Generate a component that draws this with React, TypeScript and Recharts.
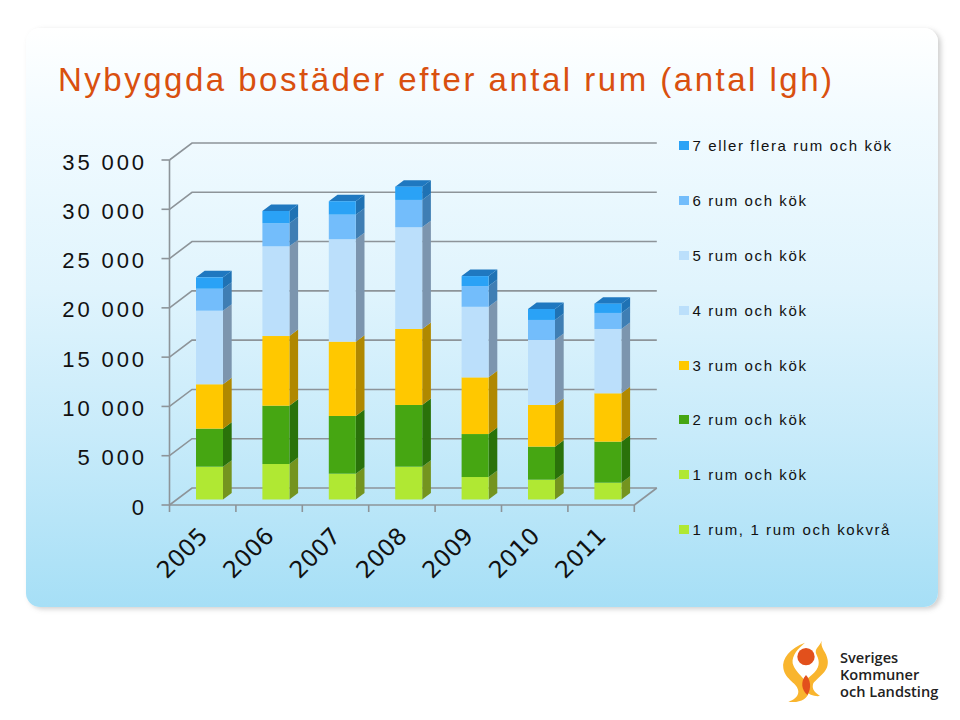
import React from "react";
import { BarChart, Bar, XAxis, YAxis, CartesianGrid, Legend } from "recharts";

const years = ["2005", "2006", "2007", "2008", "2009", "2010", "2011"];
const yTicks = [0, 5000, 10000, 15000, 20000, 25000, 30000, 35000];

const kokvra = [0, 0, 0, 0, 0, 0, 0];
const rum1 = [3330, 3600, 2620, 3330, 2280, 2010, 1705];
const rum2 = [3855, 5915, 5855, 6260, 4360, 3350, 4160];
const rum3 = [4505, 7070, 7540, 7710, 5750, 4230, 4910];
const rum4 = [7465, 9100, 10390, 10320, 7160, 6595, 6525];
const rum5 = [0, 0, 0, 0, 0, 0, 0];
const rum6 = [2230, 2335, 2495, 2770, 2100, 2030, 1625];
const rum7 = [1155, 1250, 1360, 1350, 1015, 1115, 945];

const seriesList = [
  { key: "a", name: "1 rum, 1 rum och kokvrå", values: kokvra, fill: "#b0e833", side: "#74941f", top: "#8fb828" },
  { key: "b", name: "1 rum och kök", values: rum1, fill: "#b0e833", side: "#74941f", top: "#8fb828" },
  { key: "c", name: "2 rum och kök", values: rum2, fill: "#46a612", side: "#2a720a", top: "#357f0d" },
  { key: "d", name: "3 rum och kök", values: rum3, fill: "#ffc800", side: "#b08800", top: "#c89c00" },
  { key: "e", name: "4 rum och kök", values: rum4, fill: "#bbdffb", side: "#7c95ae", top: "#90adc8" },
  { key: "f", name: "5 rum och kök", values: rum5, fill: "#bbdffb", side: "#7c95ae", top: "#90adc8" },
  { key: "g", name: "6 rum och kök", values: rum6, fill: "#73bdfb", side: "#3f7eb4", top: "#4f90c8" },
  { key: "h", name: "7 eller flera rum och kök", values: rum7, fill: "#2aa2f6", side: "#1f72b4", top: "#1f78c0" },
];

const chartData = years.map((year, i) => {
  const row: Record<string, string | number> = { year };
  seriesList.forEach((s) => {
    row[s.key] = s.values[i];
  });
  return row;
});

const DEPTH_X = 8.7;
const DEPTH_Y = 6.5;
const FRONT_DX = -6.5;
const FRONT_DY = 5.5;
const BACK_DX = 16;
const BACK_DY = -11.5;
const AXIS = "#8d9499";
const TXT = "#111";

function Bar3D(props: any, side: string, top: string, isTop: boolean) {
  const { x, y, width, height, fill } = props;
  if (!height || height <= 0) return <g />;
  const r = x + width;
  const b = y + height;
  return (
    <g>
      <polygon
        points={`${r},${y} ${r + DEPTH_X},${y - DEPTH_Y} ${r + DEPTH_X},${b - DEPTH_Y} ${r},${b}`}
        fill={side}
      />
      {isTop && (
        <polygon
          points={`${x},${y} ${r},${y} ${r + DEPTH_X},${y - DEPTH_Y} ${x + DEPTH_X},${y - DEPTH_Y}`}
          fill={top}
        />
      )}
      <rect x={x} y={y} width={width} height={height} fill={fill} />
    </g>
  );
}

function WallLine(props: any) {
  const { x1, x2, y1 } = props;
  return (
    <path
      d={`M${x1 + FRONT_DX},${y1 + FRONT_DY} L${x1 + BACK_DX},${y1 + BACK_DY} L${x2 + BACK_DX},${y1 + BACK_DY}`}
      fill="none"
      stroke={AXIS}
      strokeWidth={1.6}
    />
  );
}

function YTick(props: any) {
  const { x, y, payload } = props;
  const label = String(payload.value).replace(/\B(?=(\d{3})+$)/g, " ");
  return (
    <g>
      <line x1={x + FRONT_DX - 8} x2={x + FRONT_DX} y1={y + FRONT_DY} y2={y + FRONT_DY} stroke={AXIS} strokeWidth={1.6} />
      <text
        x={147}
        y={y + FRONT_DY + 9.5}
        textAnchor="end"
        fontFamily="'Liberation Sans', Arial, sans-serif"
        fontSize={22}
        letterSpacing={2.9}
        fill={TXT}
      >
        {label}
      </text>
    </g>
  );
}

const BAND = 66.4;

function XTick(props: any) {
  const { x, y, payload, index } = props;
  const tx = x - BAND / 2 + FRONT_DX;
  const isLast = index === years.length - 1;
  return (
    <g>
      <line x1={tx} x2={tx} y1={y + FRONT_DY} y2={y + FRONT_DY + 7} stroke={AXIS} strokeWidth={1.6} />
      {isLast && (
        <g>
          <line x1={tx + BAND} x2={tx + BAND} y1={y + FRONT_DY} y2={y + FRONT_DY + 7} stroke={AXIS} strokeWidth={1.6} />
          <line
            x1={tx + BAND}
            y1={y + FRONT_DY}
            x2={tx + BAND + BACK_DX - FRONT_DX}
            y2={y + BACK_DY}
            stroke={AXIS}
            strokeWidth={1.6}
          />
        </g>
      )}
      <text
        transform={`translate(${x - 27} ${y + 53.5}) rotate(-45)`}
        textAnchor="middle"
        dominantBaseline="central"
        fontFamily="'DejaVu Sans', sans-serif"
        fontSize={23.5}
        fill={TXT}
      >
        {payload.value}
      </text>
    </g>
  );
}

function LegendBox(props: any) {
  const items = [...(props.payload || [])].sort(
    (a: any, b: any) =>
      seriesList.findIndex((s) => s.name === b.value) - seriesList.findIndex((s) => s.name === a.value)
  );
  return (
    <div style={{ width: 260 }}>
      {items.map((it: any) => (
        <div key={it.value} style={{ height: 54.8, display: "flex", alignItems: "center" }}>
          <span style={{ width: 10, height: 9, background: it.color, display: "inline-block", marginRight: 3.5 }} />
          <span
            style={{
              fontFamily: "'Liberation Sans', Arial, sans-serif",
              fontSize: 15,
              letterSpacing: 1.6,
              color: "#111",
              whiteSpace: "nowrap",
            }}
          >
            {it.value}
          </span>
        </div>
      ))}
    </div>
  );
}

function Logo() {
  return (
    <svg width={190} height={100} style={{ position: "absolute", left: 770, top: 620 }}>
      <g transform="scale(0.3333)">
        <path
          d="M105,68 C60,85 35,115 40,145 C45,180 85,190 85,215 C85,230 70,240 55,245 C85,250 115,240 118,210 C120,185 75,160 68,130 C65,105 85,85 105,68 Z"
          fill="#f9b52e"
        />
        <path
          d="M155,62 C150,80 130,85 140,105 C150,125 150,145 125,165 C105,180 95,195 105,210 C115,225 135,230 150,228 C130,215 125,205 130,190 C145,170 178,155 173,120 C170,95 150,85 155,62 Z"
          fill="#f9b52e"
        />
        <circle cx={108} cy={110} r={26} fill="#e2501c" />
        <path d="M108,165 C90,185 95,210 112,225 C125,205 122,180 108,165 Z" fill="#e2501c" />
      </g>
      <g fontFamily="'Open Sans', sans-serif" fontSize={14.6} fontWeight={600} fill="#222">
        <text x={70} y={43}>Sveriges</text>
        <text x={70} y={60}>Kommuner</text>
        <text x={70} y={77}>och Landsting</text>
      </g>
    </svg>
  );
}

export default function App() {
  return (
    <div style={{ position: "absolute", left: 0, top: 0, width: 960, height: 720, background: "#fff", overflow: "hidden" }}>
      <div
        style={{
          position: "absolute",
          left: 26,
          top: 28,
          width: 912,
          height: 579,
          borderRadius: 14,
          background:
            "linear-gradient(180deg, #ffffff 0%, #f2fbff 15%, #e0f4fd 45%, #c8ebfa 70%, #a6dff6 100%)",
          boxShadow: "3px 2px 5px rgba(120,120,120,0.35)",
        }}
      />
      <div
        style={{
          position: "absolute",
          left: 58,
          top: 61,
          fontFamily: "'Liberation Sans', Arial, sans-serif",
          fontSize: 33,
          letterSpacing: 2.5,
          color: "#d9500f",
          whiteSpace: "nowrap",
        }}
      >
        Nybyggda bostäder efter antal rum (antal lgh)
      </div>
      <div style={{ position: "absolute", left: 0, top: 0 }}>
        <BarChart
          width={960}
          height={720}
          data={chartData}
          margin={{ left: 175, right: 319.2, top: 154.5, bottom: 219.5 }}
          barCategoryGap={0}
          barSize={27}
        >
          <CartesianGrid horizontal={WallLine as any} vertical={false} />
          <XAxis
            dataKey="year"
            height={1}
            interval={0}
            tickMargin={0}
            tickSize={0}
            axisLine={{ stroke: AXIS, strokeWidth: 1.6, transform: `translate(${FRONT_DX} ${FRONT_DY})` }}
            tickLine={false}
            tick={XTick as any}
          />
          <YAxis
            width={1}
            domain={[0, 35000]}
            ticks={yTicks}
            interval={0}
            tickMargin={0}
            tickSize={0}
            axisLine={{ stroke: AXIS, strokeWidth: 1.6, transform: `translate(${FRONT_DX} ${FRONT_DY})` }}
            tickLine={false}
            tick={YTick as any}
          />
          {seriesList.map((s, i) => (
            <Bar
              key={s.key}
              dataKey={s.key}
              name={s.name}
              stackId="all"
              fill={s.fill}
              isAnimationActive={false}
              shape={(p: any) => Bar3D(p, s.side, s.top, i === seriesList.length - 1)}
            />
          ))}
          <Legend
            layout="vertical"
            align="center"
            verticalAlign="middle"
            content={LegendBox as any}
            wrapperStyle={{ position: "absolute", left: 679, top: 118.6, width: 260 }}
          />
        </BarChart>
      </div>
      <Logo />
    </div>
  );
}
